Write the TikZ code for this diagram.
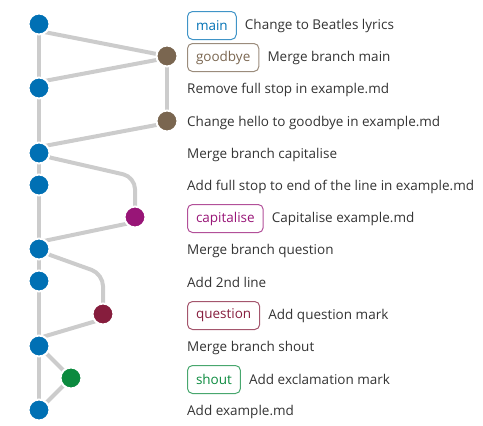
\documentclass[tikz,border=0pt]{standalone}
\usepackage{fontspec}
\setmainfont{Open Sans}
\usetikzlibrary{positioning,backgrounds}

\definecolor{cblue}{HTML}{0070B4}
\definecolor{cbrown}{HTML}{7A6650}
\definecolor{cmagenta}{HTML}{981577}
\definecolor{cred}{HTML}{861D3D}
\definecolor{cgreen}{HTML}{0B8A3E}
\definecolor{edgegray}{HTML}{CCCCCC}
\definecolor{msgtext}{HTML}{333333}

\tikzset{
    commit/.style={circle, fill=#1, draw=white, line width=2pt, minimum size=21pt, inner sep=0pt},
    edge/.style={draw=edgegray, line width=4pt, rounded corners=6pt},
    bendedge/.style={edge, rounded corners=12pt},
    branch/.style={draw=#1!75, text=#1, rounded corners=5pt, line width=1pt,
        inner xsep=8.5pt, inner ysep=0pt, minimum height=28pt, anchor=west},
    msg/.style={text=msgtext, inner sep=0pt, anchor=west},
}

\begin{document}
\begin{tikzpicture}[x=1pt, y=-1pt, font=\fontsize{13.5}{16}\selectfont]
    \useasboundingbox (0, 0) rectangle (483, 426);

    % commits
    \node[commit=cblue]    (c0)  at ( 39,  24) {};
    \node[commit=cbrown]   (c1)  at (167,  56) {};
    \node[commit=cblue]    (c2)  at ( 39,  88) {};
    \node[commit=cbrown]   (c3)  at (167, 121) {};
    \node[commit=cblue]    (c4)  at ( 39, 153) {};
    \node[commit=cblue]    (c5)  at ( 39, 185) {};
    \node[commit=cmagenta] (c6)  at (135, 217) {};
    \node[commit=cblue]    (c7)  at ( 39, 249) {};
    \node[commit=cblue]    (c8)  at ( 39, 281) {};
    \node[commit=cred]     (c9)  at (103, 314) {};
    \node[commit=cblue]    (c10) at ( 39, 346) {};
    \node[commit=cgreen]   (c11) at ( 71, 378) {};
    \node[commit=cblue]    (c12) at ( 39, 410) {};

    % lines between commits
    \begin{pgfonlayer}{background}
        \draw[edge] (c0.center) -- (c12.center);
        \draw[edge] (c1.center) -- (c3.center);
        \draw[edge] (c0.center) -- ++(0, 7) -- (c1.center);
        \draw[edge] (c1.center) -- ++(0, 2) -- ([yshift=6pt]c2.center) -- (c2.center);
        \draw[edge] (c3.center) -- ++(0, 2) -- ([yshift=6pt]c4.center) -- (c4.center);
        \draw[bendedge] (c4.center) -- ++(0, 2) -- ([yshift=40pt]c6.center) -- (c6.center);
        \draw[edge] (c6.center) -- ++(0, 5) -- ([yshift=7pt]c7.center) -- (c7.center);
        \draw[bendedge] (c7.center) -- ++(0, 2) -- ([yshift=40pt]c9.center) -- (c9.center);
        \draw[edge] (c9.center) -- ++(0, 5) -- ([yshift=8pt]c10.center) -- (c10.center);
        \draw[edge] (c10.center) -- (c11.center);
        \draw[edge] (c11.center) -- (c12.center);
    \end{pgfonlayer}

    % branch labels and messages
    \node[branch=cblue] (b0) at (187, 25.5) {main};
    \node[msg, right=8pt of b0] (m0) {Change to Beatles lyrics};
    \node[branch=cbrown] (b1) at (187, 57.5) {goodbye};
    \node[msg, right=8pt of b1] (m1) {Merge branch main};
    \node[msg] (m2) at (187, 89.5) {Remove full stop in example.md};
    \node[msg] (m3) at (187, 122.5) {Change hello to goodbye in example.md};
    \node[msg] (m4) at (187, 154.5) {Merge branch capitalise};
    \node[msg] (m5) at (187, 186.5) {Add full stop to end of the line in example.md};
    \node[branch=cmagenta] (b6) at (187, 218.5) {capitalise};
    \node[msg, right=8pt of b6] (m6) {Capitalise example.md};
    \node[msg] (m7) at (187, 250.5) {Merge branch question};
    \node[msg] (m8) at (187, 282.5) {Add 2nd line};
    \node[branch=cred] (b9) at (187, 315.5) {question};
    \node[msg, right=8pt of b9] (m9) {Add question mark};
    \node[msg] (m10) at (187, 347.5) {Merge branch shout};
    \node[branch=cgreen] (b11) at (187, 379.5) {shout};
    \node[msg, right=8pt of b11] (m11) {Add exclamation mark};
    \node[msg] (m12) at (187, 411.5) {Add example.md};
\end{tikzpicture}
\end{document}
